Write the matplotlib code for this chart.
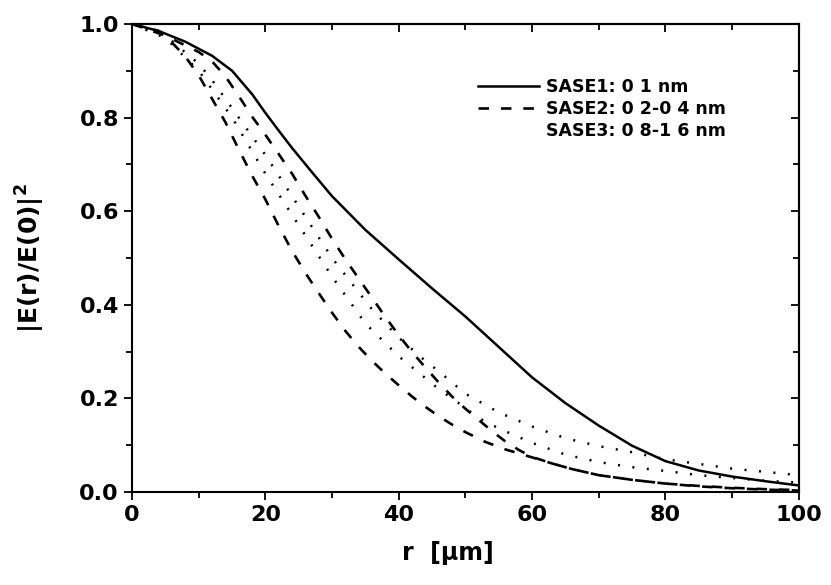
import numpy as np
import matplotlib
matplotlib.use("Agg")
import matplotlib.pyplot as plt
from matplotlib.ticker import MultipleLocator, FormatStrFormatter

# radial intensity profiles |E(r)/E(0)|^2
r_s1 = [0, 4, 8, 12, 15, 18, 20, 22, 24, 27, 30, 35, 40, 45, 50, 55, 60, 65, 70, 75, 80, 85, 90, 95, 100]
v_s1 = [1.0, 0.985, 0.962, 0.932, 0.9, 0.85, 0.81, 0.772, 0.735, 0.683, 0.632, 0.56, 0.497, 0.435,
        0.375, 0.31, 0.245, 0.19, 0.142, 0.099, 0.066, 0.046, 0.033, 0.023, 0.014]

r_s2a = [0, 5, 10, 12, 14, 16, 18, 20, 22, 24, 26, 28, 30, 32, 34, 36, 38, 40, 42, 44, 46, 48, 50,
         52, 54, 56, 58, 60, 63, 66, 70, 75, 80, 85, 90, 95, 100]
v_s2a = [1.0, 0.975, 0.94, 0.92, 0.888, 0.846, 0.802, 0.763, 0.722, 0.68, 0.633, 0.588, 0.541, 0.497,
         0.456, 0.415, 0.374, 0.335, 0.299, 0.266, 0.234, 0.204, 0.178, 0.154, 0.13, 0.108, 0.09, 0.075,
         0.061, 0.049, 0.036, 0.026, 0.018, 0.013, 0.009, 0.006, 0.004]

r_s2b = [0, 4, 6, 8, 10, 12, 14, 16, 18, 20, 22, 24, 26, 28, 30, 32, 34, 36, 38, 40, 42, 44, 46, 48,
         50, 53, 56, 60, 63, 66, 70, 75, 80, 85, 90, 95, 100]
v_s2b = [1.0, 0.985, 0.96, 0.93, 0.89, 0.84, 0.79, 0.732, 0.676, 0.625, 0.568, 0.515, 0.468, 0.425,
         0.383, 0.344, 0.31, 0.28, 0.253, 0.228, 0.204, 0.182, 0.162, 0.144, 0.128, 0.107, 0.091,
         0.074, 0.061, 0.049, 0.036, 0.026, 0.018, 0.012, 0.008, 0.005, 0.003]

r_s3a = [0, 5, 10, 12, 15, 20, 25, 30, 36, 40, 44, 46, 50, 55, 60, 65, 70, 75, 80, 85, 90, 95, 100]
v_s3a = [1.0, 0.975, 0.915, 0.88, 0.82, 0.72, 0.61, 0.5, 0.39, 0.33, 0.28, 0.258, 0.21, 0.17, 0.14,
         0.115, 0.098, 0.085, 0.07, 0.06, 0.05, 0.043, 0.036]

r_s3b = [0, 5, 10, 15, 20, 25, 30, 35, 40, 46, 49, 52, 55, 60, 65, 70, 75, 80, 85, 90, 95, 100]
v_s3b = [1.0, 0.97, 0.9, 0.8, 0.68, 0.57, 0.46, 0.36, 0.29, 0.22, 0.19, 0.158, 0.136, 0.105, 0.08,
         0.064, 0.053, 0.045, 0.036, 0.03, 0.024, 0.02]

labels = ["SASE1: 0 1 nm", "SASE2: 0 2-0 4 nm", "SASE3: 0 8-1 6 nm"]

plt.rcParams["font.family"] = "DejaVu Sans"
plt.rcParams["font.weight"] = "bold"
plt.rcParams["mathtext.default"] = "bf"

fig = plt.figure(figsize=(8.31, 5.85), dpi=100)
ax = fig.add_axes([0.159, 0.159, 0.802, 0.800])

dash = (0, (4, 4.5))
dot = (0, (0.8, 5))
ax.plot(r_s1, v_s1, color="k", lw=1.8, label=labels[0])
ax.plot(r_s2a, v_s2a, color="k", lw=1.9, ls=dash, label=labels[1])
ax.plot(r_s2b, v_s2b, color="k", lw=1.9, ls=dash)
ax.plot(r_s3a, v_s3a, color="k", lw=1.8, ls=dot)
ax.plot(r_s3b, v_s3b, color="k", lw=1.8, ls=dot)
# scanned original shows no visible handle for SASE3
ax.plot([], [], ls="none", label=labels[2])

ax.set_xlim(0, 100)
ax.set_ylim(0, 1.0)
ax.xaxis.set_major_locator(MultipleLocator(20))
ax.xaxis.set_minor_locator(MultipleLocator(10))
ax.yaxis.set_major_locator(MultipleLocator(0.2))
ax.yaxis.set_minor_locator(MultipleLocator(0.1))
ax.yaxis.set_major_formatter(FormatStrFormatter("%.1f"))

for sp in ax.spines.values():
    sp.set_linewidth(1.5)
ax.tick_params(which="both", width=1.3, labelsize=16, direction="out")
ax.tick_params(which="major", length=6)
ax.tick_params(which="minor", length=4)
for t in ax.get_xticklabels() + ax.get_yticklabels():
    t.set_fontweight("bold")

# top / right ticks point inward
top = ax.secondary_xaxis("top")
top.xaxis.set_major_locator(MultipleLocator(20))
top.xaxis.set_minor_locator(MultipleLocator(10))
top.tick_params(which="both", direction="in", width=1.3, labeltop=False)
top.tick_params(which="major", length=6)
top.tick_params(which="minor", length=4)
right = ax.secondary_yaxis("right")
right.yaxis.set_major_locator(MultipleLocator(0.2))
right.yaxis.set_minor_locator(MultipleLocator(0.1))
right.tick_params(which="both", direction="in", width=1.3, labelright=False)
right.tick_params(which="major", length=6)
right.tick_params(which="minor", length=4)
for s in (top, right):
    for sp in s.spines.values():
        sp.set_linewidth(1.5)

ax.set_xlabel("r  [\u03bcm]", fontsize=17, fontweight="bold")
ax.xaxis.set_label_coords(0.474, -0.105)
ax.set_ylabel(r"|E(r)/E(0)|$^{2}$", fontsize=18, fontweight="bold")
ax.yaxis.set_label_coords(-0.128, 0.5)

leg = ax.legend(loc="upper left", bbox_to_anchor=(0.519, 0.885), frameon=False,
                fontsize=12.5, handlelength=3.5, handletextpad=0.4, borderpad=0,
                labelspacing=0.25, borderaxespad=0)
for t in leg.get_texts():
    t.set_fontweight("bold")

fig.savefig("out.png", dpi=100)
